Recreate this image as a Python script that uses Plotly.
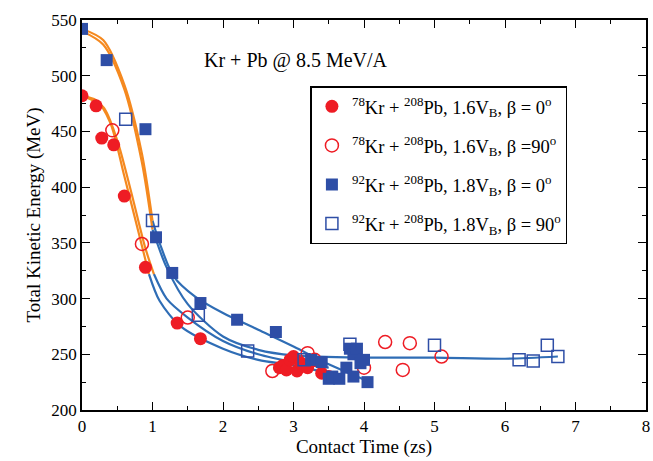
import plotly.graph_objects as go

# scatter data (contact time in zs, TKE in MeV)
kr78_0_x = [0, 0.2, 0.28, 0.45, 0.6, 0.9, 1.35, 1.68, 2.8, 2.85, 2.9, 2.95, 3.0, 3.05, 3.1, 3.2, 3.4, 3.5]
kr78_0_y = [482, 473, 444, 438, 392, 328, 278, 264, 238, 240, 236, 245, 248, 235, 242, 238, 233, 230]
kr78_90_x = [0.43, 0.85, 1.5, 2.7, 3.2, 3.3, 4.0, 4.3, 4.55, 4.65, 5.1]
kr78_90_y = [451, 349, 283, 235, 251, 245, 238, 261, 236, 260, 248]
kr92_0_x = [0, 0.35, 0.9, 1.05, 1.28, 1.68, 2.2, 2.75, 3.25, 3.4, 3.5, 3.55, 3.65, 3.75, 3.8, 3.85, 3.85, 3.9, 3.95, 4.0, 4.05]
kr92_0_y = [542, 514, 452, 355, 323, 296, 281, 270, 245, 243, 228, 230, 228, 238, 255, 230, 250, 255, 242, 245, 225]
kr92_90_x = [0.62, 1.0, 1.65, 2.35, 3.15, 3.8, 5.0, 6.2, 6.4, 6.6, 6.75]
kr92_90_y = [461, 370, 285, 253, 245, 259, 258, 245, 244, 258, 248]

# fitted curves; first n points drawn orange
curves = [
    ([0, 0.2, 0.4, 0.6, 0.8, 0.95, 1.1, 1.4, 2, 2.5, 3, 3.5],
     [482, 478, 458, 410, 360, 322, 298, 275, 255, 245, 240, 233], 6),
    ([0, 0.3, 0.5, 0.7, 0.9, 1.02, 1.2, 1.5, 2, 2.5, 3, 3.5],
     [482, 472, 442, 395, 345, 322, 300, 283, 262, 250, 243, 238], 6),
    ([0, 0.3, 0.6, 0.85, 1.0, 1.1, 1.3, 1.6, 2, 2.5, 3, 3.5, 4.05],
     [542, 532, 492, 430, 370, 350, 320, 302, 287, 272, 257, 241, 226], 5),
    ([0, 0.3, 0.6, 0.85, 1.0, 1.2, 1.5, 2, 2.5, 3, 4, 5, 6, 6.75],
     [540, 528, 488, 422, 362, 328, 295, 266, 254, 249, 247, 247, 246, 248], 5),
]

fig = go.Figure()
for cx, cy, n in curves:
    fig.add_trace(go.Scatter(x=cx[n - 1:], y=cy[n - 1:], mode="lines", line=dict(color="#2f6db5", width=2.2, shape="spline", smoothing=0.8), showlegend=False))
    fig.add_trace(go.Scatter(x=cx[:n], y=cy[:n], mode="lines", line=dict(color="#f5891f", width=2.2, shape="spline", smoothing=0.8), showlegend=False))

red, blue = "#ee1c24", "#2e4ea6"
fig.add_trace(go.Scatter(x=kr78_0_x, y=kr78_0_y, mode="markers", marker=dict(symbol="circle", size=13, color=red), legendgroup="a",
                         name="<sup>78</sup>Kr + <sup>208</sup>Pb, 1.6V<sub>B</sub>, β = 0<sup>o</sup>"))
fig.add_trace(go.Scatter(x=kr78_90_x, y=kr78_90_y, mode="markers", marker=dict(symbol="circle-open", size=13, color=red, line=dict(width=1.5)), legendgroup="b",
                         name="<sup>78</sup>Kr + <sup>208</sup>Pb, 1.6V<sub>B</sub>, β =90<sup>o</sup>"))
fig.add_trace(go.Scatter(x=kr92_0_x, y=kr92_0_y, mode="markers", marker=dict(symbol="square", size=12, color=blue), legendgroup="c",
                         name="<sup>92</sup>Kr + <sup>208</sup>Pb, 1.8V<sub>B</sub>, β = 0<sup>o</sup>"))
fig.add_trace(go.Scatter(x=kr92_90_x, y=kr92_90_y, mode="markers", marker=dict(symbol="square-open", size=12, color=blue, line=dict(width=1.5)), legendgroup="d",
                         name="<sup>92</sup>Kr + <sup>208</sup>Pb, 1.8V<sub>B</sub>, β = 90<sup>o</sup>"))

axis = dict(showgrid=False, zeroline=False, showline=True, linecolor="black", linewidth=1.5, mirror="ticks",
            ticks="inside", ticklen=8, tickcolor="black", minor=dict(ticks="inside", ticklen=4, tickcolor="black"),
            tickfont=dict(size=17, color="black"))
fig.update_layout(
    width=653, height=461, plot_bgcolor="white", paper_bgcolor="white",
    margin=dict(l=82, r=3, t=20, b=51),
    font=dict(family="Liberation Serif", color="black"),
    xaxis=dict(axis, range=[0, 8], dtick=1, minor=dict(ticks="inside", ticklen=4, dtick=0.5),
               title=dict(text="Contact Time (zs)", font=dict(size=19), standoff=2)),
    yaxis=dict(axis, range=[200, 550], dtick=50, minor=dict(ticks="inside", ticklen=4, dtick=25),
               title=dict(text="Total Kinetic Energy (MeV)", font=dict(size=19), standoff=6)),
    legend=dict(x=0.405, y=0.83, xanchor="left", yanchor="top", bordercolor="black", borderwidth=1.5,
                bgcolor="white", font=dict(size=18.5), itemwidth=30, tracegroupgap=12),
    annotations=[dict(x=0.38, y=0.93, xref="paper", yref="paper", text="Kr + Pb @ 8.5 MeV/A",
                      showarrow=False, font=dict(size=20), xanchor="center")],
)
fig.write_html("out.html", config={"displayModeBar": False}, post_script="document.body.style.margin='0';")
